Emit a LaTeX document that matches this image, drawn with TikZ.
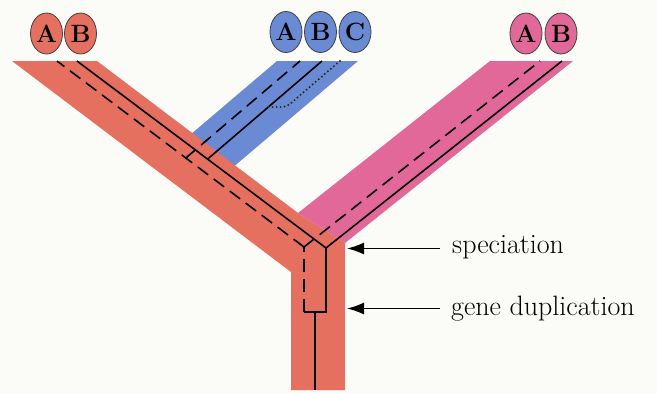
\documentclass[tikz,border=0pt]{standalone}
\usetikzlibrary{arrows.meta,shapes.geometric}
\definecolor{bandred}{RGB}{229,112,96}
\definecolor{bandblue}{RGB}{106,138,212}
\definecolor{bandpink}{RGB}{225,104,152}
\definecolor{paper}{RGB}{251,251,248}
\begin{document}
\begin{tikzpicture}[x=1pt,y=-1pt,
  gene/.style={line width=1.6pt,black},
  genedash/.style={gene,dash pattern=on 13pt off 7pt},
  genedot/.style={line width=2.2pt,black!85,dash pattern=on 0pt off 4pt,line cap=round},
  allele/.style={ellipse,draw=black!75,line width=0.8pt,minimum width=32pt,minimum height=41pt,inner sep=0pt,font=\fontsize{25}{25}\selectfont\bfseries},
  lbl/.style={anchor=base west,inner sep=0pt,font=\fontsize{28}{28}\selectfont},
  arr/.style={line width=1.4pt,-{Latex[length=17pt,width=12pt]}}
]
\useasboundingbox (0,0) rectangle (657,394);
\fill[paper] (0,0) rectangle (657,394);
% bands
\fill[bandblue] (277,61) -- (358,61) -- (220,178.3) -- (180,143.5) -- cycle;
\fill[bandred] (12,61) -- (97,61) -- (298,213) -- (345,243) -- (345,390) -- (291,390) -- (291,272) -- cycle;
\fill[bandpink] (490,61) -- (573,61) -- (345,243) -- (298,213) -- cycle;
% gene lineage coordinates
\coordinate (rdtop) at (57,61);
\coordinate (rstop) at (77,61);
\coordinate (bdtop) at (300,61);
\coordinate (bstop) at (322,61);
\coordinate (bctop) at (340,61);
\coordinate (pdtop) at (540,61);
\coordinate (pstop) at (562,61);
\coordinate (dapex) at (304,247);
\coordinate (sapex) at (326,248);
\coordinate (ddup) at (304,312);
\coordinate (sdup) at (326,312);
\coordinate (dupmid) at (315,312);
\coordinate (root) at (315,390);
\coordinate (bdjoin) at (185.8,158);
\coordinate (bsjoin) at (207.6,159.1);
\coordinate (bcjoin) at (268.5,107);
% gene trees
\draw[genedash] (dapex) -- (rdtop);
\draw[genedash] (dapex) -- (pdtop);
\draw[genedash] (ddup) -- (dapex);
\draw[genedash] (bdjoin) -- (bdtop);
\draw[gene] (rstop) -- (sapex) -- (pstop);
\draw[gene] (sapex) -- (sdup) -- (ddup);
\draw[gene] (dupmid) -- (root);
\draw[gene] (bsjoin) -- (bstop);
\draw[genedot] (bctop) -- (298,97) .. controls (290,104) and (288,107) .. (281,107) -- (bcjoin);
% alleles
\node[allele,fill=bandred] (rA) at (46.5,33.5) {A};
\node[allele,fill=bandred] (rB) at (80.5,33.5) {B};
\node[allele,fill=bandblue] (bA) at (286,32) {A};
\node[allele,fill=bandblue] (bB) at (320.5,32) {B};
\node[allele,fill=bandblue] (bC) at (355,32) {C};
\node[allele,fill=bandpink] (pA) at (526,33.5) {A};
\node[allele,fill=bandpink] (pB) at (561,33.5) {B};
% labels and arrows
\node[lbl] (spec) at (452,253) {speciation};
\node[lbl] (dup) at (451,315) {gene duplication};
\coordinate (spectip) at (347,248.5);
\coordinate (duptip) at (347,308.5);
\draw[arr] ([xshift=-12pt]spec.west |- spectip) -- (spectip);
\draw[arr] ([xshift=-11pt]dup.west |- duptip) -- (duptip);
\end{tikzpicture}
\end{document}
